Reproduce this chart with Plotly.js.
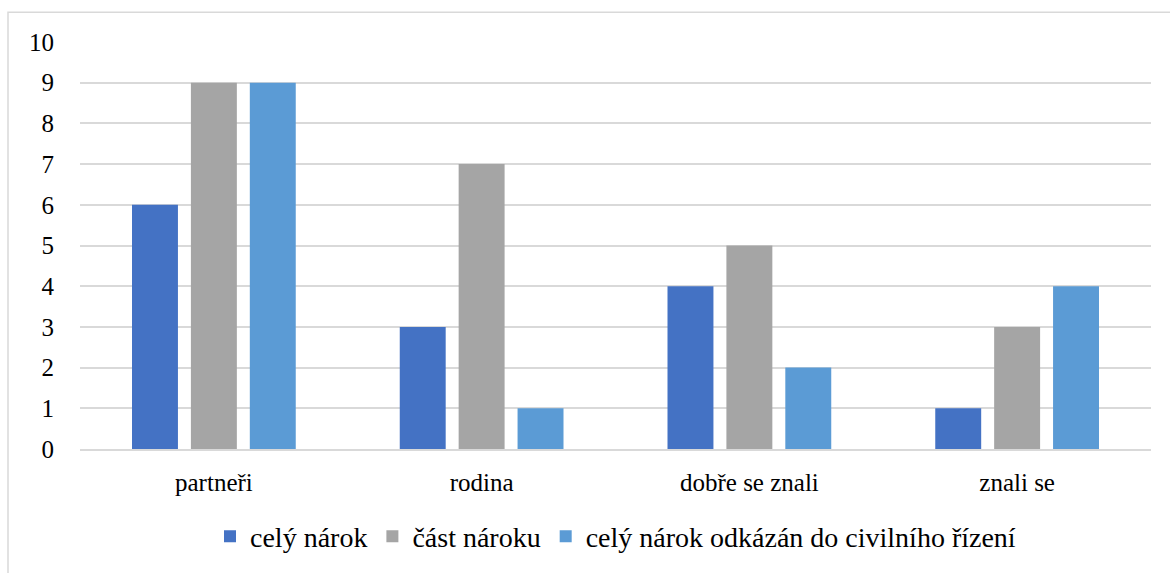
<!DOCTYPE html>
<html>
<head>
<meta charset="utf-8">
<script src="https://cdn.plot.ly/plotly-3.0.1.min.js"></script>
<style>
html,body{margin:0;padding:0;background:#fff;}
</style>
</head>
<body>
<div id="chart"></div>
<script>
const categories = ["partneři", "rodina", "dobře se znali", "znali se"];
const seriesNames = ["celý nárok", "část nároku", "celý nárok odkázán do civilního řízení"];
const celyNarok = [6, 3, 4, 1];
const castNaroku = [9, 7, 5, 3];
const odkazan = [9, 1, 2, 4];
const colors = ["#4472C4", "#A5A5A5", "#5B9BD5"];

const values = [celyNarok, castNaroku, odkazan];
const traces = values.map((v, i) => ({
  type: "bar",
  x: categories,
  y: v,
  name: seriesNames[i],
  marker: {color: colors[i]}
}));

const layout = {
  width: 1170, height: 573,
  margin: {l: 80, r: 19, t: 42, b: 121},
  barmode: "group",
  bargap: 0.34,
  bargroupgap: 0.22,
  font: {family: "Liberation Serif", size: 25, color: "#000000"},
  xaxis: {
    type: "category",
    showgrid: false,
    showline: true, linecolor: "#d9d9d9", linewidth: 2,
    ticks: "outside", ticklen: 10, tickcolor: "rgba(0,0,0,0)",
    tickfont: {family: "Liberation Serif", size: 25, color: "#000000"}
  },
  yaxis: {
    range: [0, 10], dtick: 1, tick0: 0,
    showgrid: true, gridcolor: "#d9d9d9", gridwidth: 2,
    zeroline: false, showline: false,
    ticks: "outside", ticklen: 20, tickcolor: "rgba(0,0,0,0)",
    tickfont: {family: "Liberation Serif", size: 25, color: "#000000"}
  },
  showlegend: true,
  legend: {
    orientation: "h", x: 0.5, xanchor: "center",
    y: -0.215, yanchor: "middle",
    font: {family: "Liberation Serif", size: 28, color: "#000000"},
    traceorder: "normal"
  },
  shapes: [{
    type: "rect", xref: "paper", yref: "paper",
    x0: (8 - 80) / 1071, x1: (1175 - 80) / 1071,
    y0: (452 - 580) / 410, y1: (452 - 12) / 410,
    line: {color: "#d9d9d9", width: 1.5},
    layer: "below"
  }]
};

Plotly.newPlot("chart", traces, layout, {displayModeBar: false});
</script>
</body>
</html>
